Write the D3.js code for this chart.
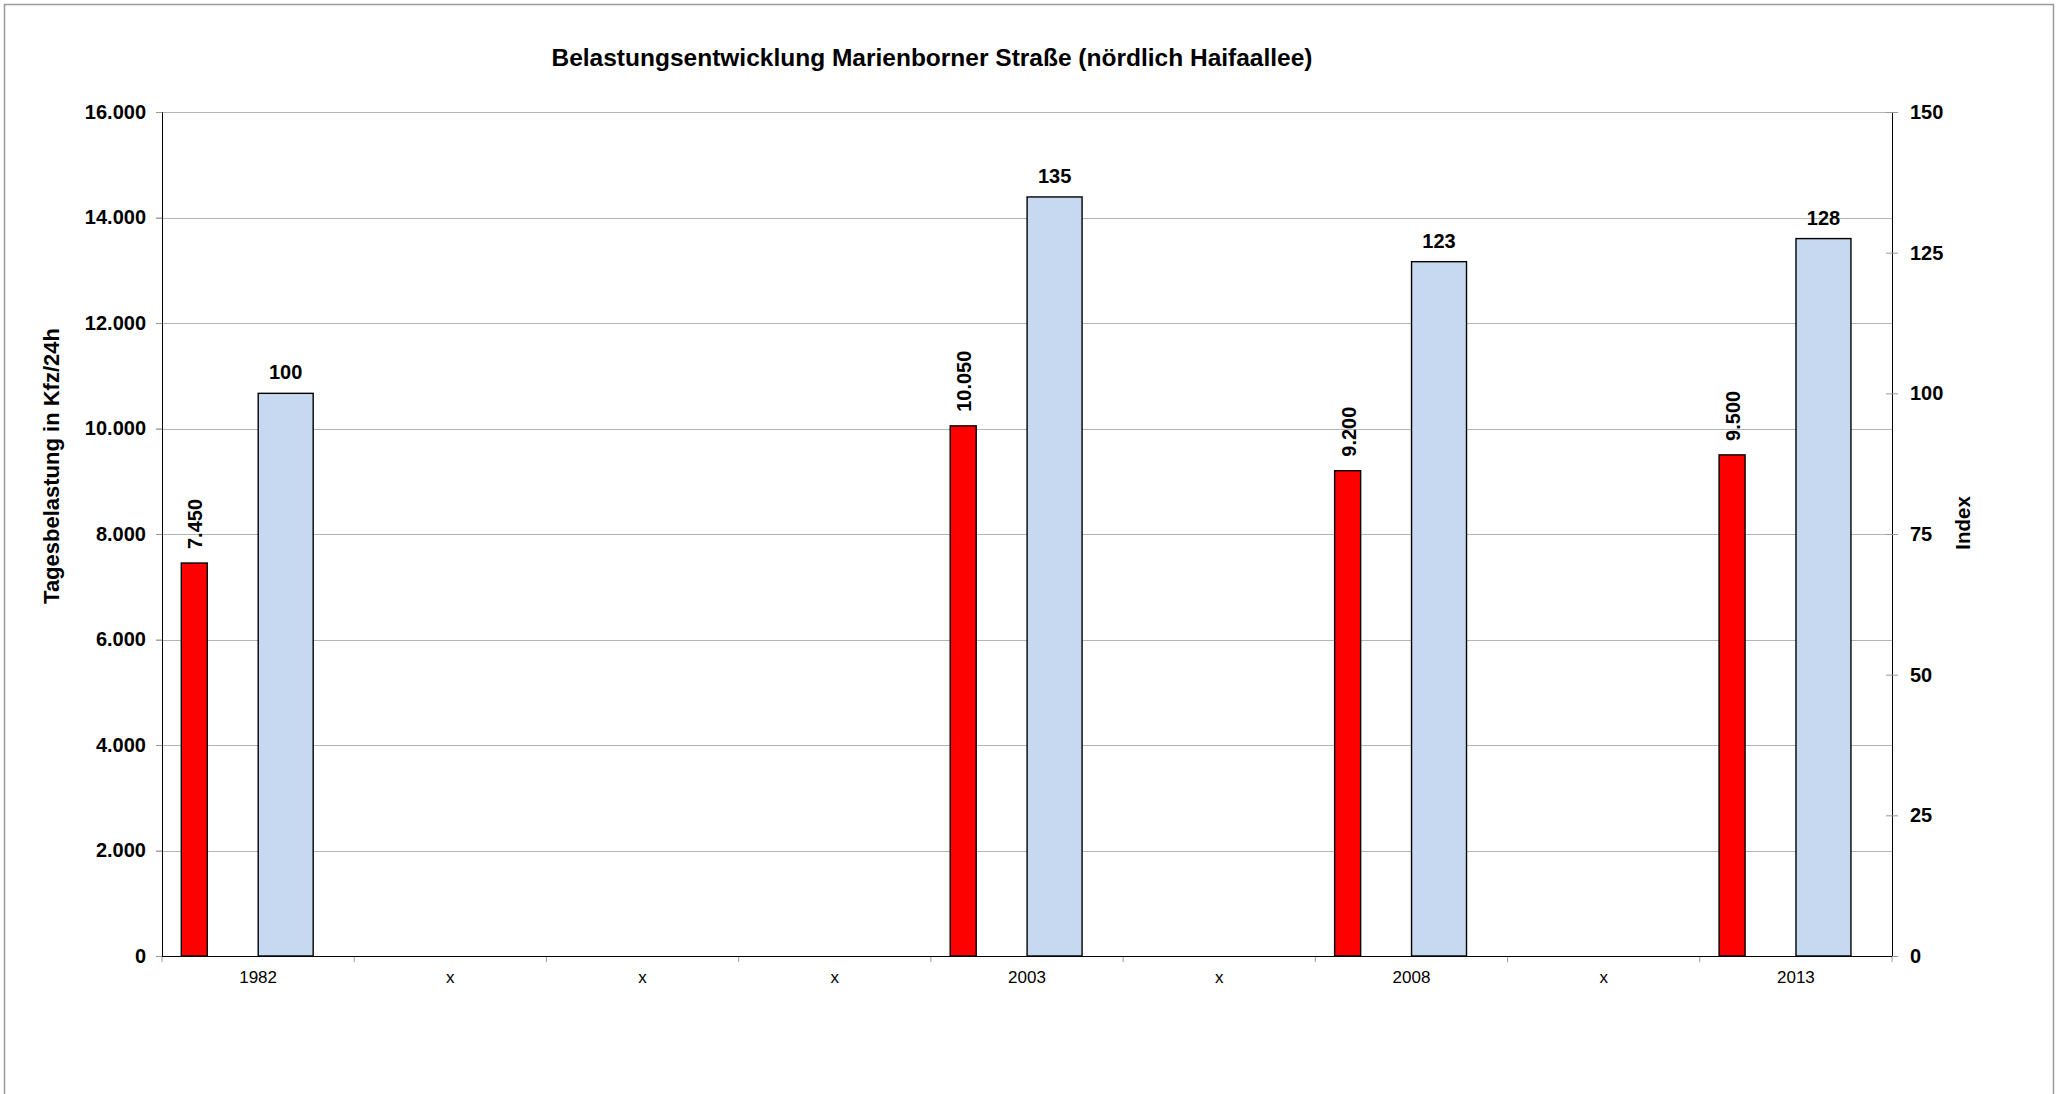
<!DOCTYPE html>
<html><head><meta charset="utf-8">
<script src="https://cdn.jsdelivr.net/npm/d3@7"></script>
<style>
html,body{margin:0;padding:0;background:#fff;}
svg{display:block;font-family:"Liberation Sans",Arial,sans-serif;}
</style></head>
<body>
<svg id="chart" width="2062" height="1094"></svg>
<script>
const categories = ["1982","x","x","x","2003","x","2008","x","2013"];
const kfzValues = [7450, null, null, null, 10050, null, 9200, null, 9500];
const indexValues = [100, null, null, null, 134.9, null, 123.4, null, 127.5];
const leftTicks = [0,2000,4000,6000,8000,10000,12000,14000,16000];
const rightTicks = [0,25,50,75,100,125,150];
const titleText = "Belastungsentwicklung Marienborner Straße (nördlich Haifaallee)";
const leftTitle = "Tagesbelastung in Kfz/24h";
const rightTitle = "Index";

const de = d3.formatLocale({decimal: ",", thousands: ".", grouping: [3], currency: ["", " €"]});
const fmtK = de.format(",");
const fmtI = d3.format(".0f");

const svg = d3.select("#chart");
const L = 162, R = 1892, T = 112, B = 956;
const FONT = "Liberation Sans, Arial, sans-serif";

svg.append("rect").attr("x",4.5).attr("y",4.5).attr("width",2049).attr("height",1100)
  .attr("fill","#fff").attr("stroke","#9a9a9a").attr("stroke-width",1.5);

const x = d3.scaleBand().domain(d3.range(categories.length)).range([L,R]).padding(0);
const yL = d3.scaleLinear().domain([0,16000]).range([B,T]);
const yR = d3.scaleLinear().domain([0,150]).range([B,T]);
const bw = x.bandwidth();

// gridlines
svg.append("g").selectAll("line").data(leftTicks.filter(d=>d>0)).join("line")
  .attr("x1",L-6).attr("x2",R).attr("y1",d=>Math.round(yL(d))+0.5).attr("y2",d=>Math.round(yL(d))+0.5)
  .attr("stroke","#b4b4b4").attr("stroke-width",1);

// left axis
const gL = svg.append("g").attr("transform",`translate(${L},0)`)
  .call(d3.axisLeft(yL).tickValues(leftTicks).tickFormat(fmtK).tickSize(6).tickPadding(10));
gL.select(".domain").attr("stroke","#000");
gL.selectAll(".tick line").attr("stroke","#999");
gL.selectAll("text").attr("font-size",20).attr("font-weight","bold").attr("fill","#000")
  .attr("font-family",FONT);

// right axis
const gR = svg.append("g").attr("transform",`translate(${R},0)`)
  .call(d3.axisRight(yR).tickValues(rightTicks).tickFormat(fmtI).tickSizeInner(6).tickSizeOuter(0).tickPadding(12));
gR.select(".domain").attr("stroke","#000");
gR.selectAll(".tick line").attr("x1",-6).attr("stroke","#999");
gR.selectAll("text").attr("font-size",20).attr("font-weight","bold").attr("fill","#000")
  .attr("font-family",FONT);

// bottom axis
const gB = svg.append("g").attr("transform",`translate(0,${B})`)
  .call(d3.axisBottom(x).tickFormat(i=>categories[i]).tickSize(0).tickPadding(15));
gB.select(".domain").remove();
gB.selectAll("text").attr("font-size",17).attr("fill","#000")
  .attr("font-family",FONT);
svg.append("g").selectAll("line").data(d3.range(categories.length+1)).join("line")
  .attr("x1",i=>(i<categories.length?x(i):R)).attr("x2",i=>(i<categories.length?x(i):R))
  .attr("y1",B).attr("y2",B+6).attr("stroke","#999");

// bars
const kData = kfzValues.map((v,i)=>({i,v})).filter(d=>d.v!=null);
const iData = indexValues.map((v,i)=>({i,v})).filter(d=>d.v!=null);

svg.append("g").selectAll("rect").data(kData).join("rect")
  .attr("x",d=>x(d.i)+bw*0.1004).attr("width",bw*0.1353)
  .attr("y",d=>yL(d.v)).attr("height",d=>B-yL(d.v))
  .attr("fill","#ff0000").attr("stroke","#000").attr("stroke-width",1.4);

svg.append("g").selectAll("rect").data(iData).join("rect")
  .attr("x",d=>x(d.i)+bw*0.5005).attr("width",bw*0.286)
  .attr("y",d=>yR(d.v)).attr("height",d=>B-yR(d.v))
  .attr("fill","#c6d9f0").attr("stroke","#000").attr("stroke-width",1.4);

// x axis line drawn over bars
svg.append("line").attr("x1",L).attr("x2",R).attr("y1",B+0.5).attr("y2",B+0.5).attr("stroke","#000");

// labels
svg.append("g").selectAll("text").data(kData).join("text")
  .attr("transform",d=>`translate(${x(d.i)+bw*0.1004+bw*0.1353/2+1},${yL(d.v)-14}) rotate(-90)`)
  .attr("dy","0.35em").attr("text-anchor","start")
  .attr("font-size",20).attr("font-weight","bold").text(d=>fmtK(d.v));

svg.append("g").selectAll("text").data(iData).join("text")
  .attr("x",d=>x(d.i)+bw*0.5005+bw*0.286/2).attr("y",d=>yR(d.v)-14)
  .attr("text-anchor","middle")
  .attr("font-size",20).attr("font-weight","bold").text(d=>fmtI(d.v));

// titles
svg.append("text").attr("x",932).attr("y",66).attr("text-anchor","middle")
  .attr("font-size",24.5).attr("font-weight","bold").text(titleText);
svg.append("text").attr("transform","translate(59,466) rotate(-90)").attr("text-anchor","middle")
  .attr("font-size",22).attr("font-weight","bold").text(leftTitle);
svg.append("text").attr("transform","translate(1970,523) rotate(-90)").attr("text-anchor","middle")
  .attr("font-size",20.5).attr("font-weight","bold").text(rightTitle);
</script>
</body></html>
